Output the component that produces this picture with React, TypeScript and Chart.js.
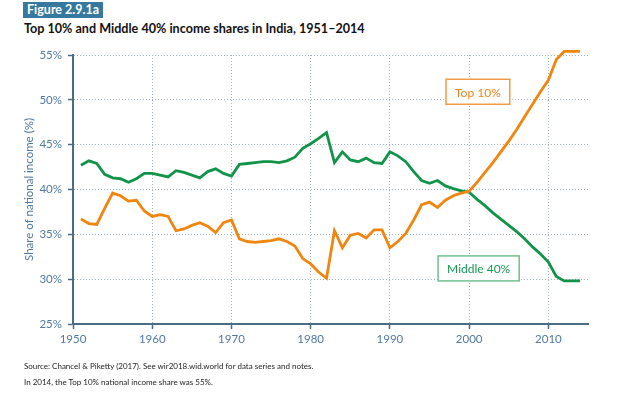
import React, { useEffect, useRef } from 'react';
import { Chart, registerables } from 'chart.js';

Chart.register(...registerables);

const YEARS = [
  1951, 1952, 1953, 1954, 1955, 1956, 1957, 1958, 1959, 1960,
  1961, 1962, 1963, 1964, 1965, 1966, 1967, 1968, 1969, 1970,
  1971, 1972, 1973, 1974, 1975, 1976, 1977, 1978, 1979, 1980,
  1981, 1982, 1983, 1984, 1985, 1986, 1987, 1988, 1989, 1990,
  1991, 1992, 1993, 1994, 1995, 1996, 1997, 1998, 1999, 2000,
  2001, 2002, 2003, 2004, 2005, 2006, 2007, 2008, 2009, 2010,
  2011, 2012, 2013, 2014,
];

const TOP10 = [
  36.7, 36.2, 36.1, 37.9, 39.6, 39.3, 38.7, 38.8, 37.6, 37.0,
  37.2, 37.0, 35.4, 35.6, 36.0, 36.3, 35.9, 35.2, 36.3, 36.6,
  34.5, 34.2, 34.1, 34.2, 34.3, 34.5, 34.2, 33.7, 32.3, 31.7,
  30.8, 30.1, 35.4, 33.5, 34.9, 35.1, 34.6, 35.5, 35.5, 33.5,
  34.2, 35.1, 36.6, 38.3, 38.6, 38.0, 38.8, 39.3, 39.6, 39.8,
  40.8, 41.9, 43.0, 44.2, 45.4, 46.7, 48.1, 49.5, 50.9, 52.2,
  54.5, 55.4, 55.4, 55.4,
];

const MIDDLE40 = [
  42.7, 43.2, 42.9, 41.7, 41.3, 41.2, 40.8, 41.2, 41.8, 41.8,
  41.6, 41.4, 42.1, 41.9, 41.6, 41.3, 42.0, 42.3, 41.8, 41.5,
  42.8, 42.9, 43.0, 43.1, 43.1, 43.0, 43.2, 43.6, 44.6, 45.1,
  45.7, 46.35, 43.0, 44.2, 43.3, 43.1, 43.5, 43.0, 42.9, 44.2,
  43.75, 43.1, 42.0, 41.0, 40.7, 41.0, 40.4, 40.1, 39.85, 39.7,
  38.9, 38.2, 37.4, 36.7, 36.0, 35.3, 34.5, 33.6, 32.8, 31.9,
  30.3, 29.8, 29.8, 29.8,
];

const X_TICKS = [1950, 1960, 1970, 1980, 1990, 2000, 2010];
const Y_TICKS = [25, 30, 35, 40, 45, 50, 55];

const SERIES_NAMES = ['Top 10%', 'Middle 40%'];

const FONT = 'Lato, "Open Sans", "DejaVu Sans", sans-serif';
const ORANGE = '#f0850f';
const GREEN = '#11944a';
const AXIS = '#4b6c85';
const TICK_TEXT = '#4f79a0';
const GRID = '#9fb1c0';

const LABEL_BOXES = [
  { text: SERIES_NAMES[0], year: 2001.1, value: 50.9, color: '#f0861a', border: '#f29a45' },
  { text: SERIES_NAMES[1], year: 2001.2, value: 31.2, color: '#159a52', border: '#72c090' },
];

const labelPlugin = {
  id: 'seriesLabels',
  afterDatasetsDraw(chart: any) {
    const { ctx, scales } = chart;
    const xs = scales.x;
    const ys = scales.y;
    for (const l of LABEL_BOXES) {
      const cx = xs.getPixelForValue(l.year);
      const cy = ys.getPixelForValue(l.value);
      ctx.save();
      ctx.font = `12px ${FONT}`;
      const w = ctx.measureText(l.text).width + 18;
      const h = 25;
      ctx.fillStyle = '#ffffff';
      ctx.fillRect(cx - w / 2, cy - h / 2, w, h);
      ctx.strokeStyle = l.border;
      ctx.lineWidth = 1.5;
      ctx.strokeRect(cx - w / 2, cy - h / 2, w, h);
      ctx.fillStyle = l.color;
      ctx.textAlign = 'center';
      ctx.textBaseline = 'middle';
      ctx.fillText(l.text, cx, cy + 1);
      ctx.restore();
    }
  },
};

export default function App() {
  const canvasRef = useRef<HTMLCanvasElement | null>(null);

  useEffect(() => {
    if (!canvasRef.current) return;
    const chart = new Chart(canvasRef.current, {
      type: 'line',
      data: {
        datasets: [
          {
            label: SERIES_NAMES[0],
            data: YEARS.map((yr, i) => ({ x: yr, y: TOP10[i] })),
            borderColor: ORANGE,
            backgroundColor: ORANGE,
            borderWidth: 2.8,
            pointRadius: 0,
            tension: 0,
            clip: 10,
          },
          {
            label: SERIES_NAMES[1],
            data: YEARS.map((yr, i) => ({ x: yr, y: MIDDLE40[i] })),
            borderColor: GREEN,
            backgroundColor: GREEN,
            borderWidth: 2.8,
            pointRadius: 0,
            tension: 0,
            clip: 10,
          },
        ],
      },
      options: {
        animation: false,
        responsive: false,
        maintainAspectRatio: false,
        devicePixelRatio: 1,
        layout: { padding: { left: 0, right: 36, top: 55, bottom: 42 } },
        plugins: {
          legend: { display: false },
          tooltip: { enabled: false },
          title: { display: false },
        },
        scales: {
          x: {
            type: 'linear',
            min: 1950,
            max: 2015,
            afterBuildTicks: (scale: any) => {
              scale.ticks = X_TICKS.map((v) => ({ value: v }));
            },
            afterFit: (scale: any) => {
              scale.height = 30;
            },
            ticks: {
              color: TICK_TEXT,
              font: { family: FONT, size: 11.5 },
              padding: 3,
              callback: (v: any) => String(v),
            },
            grid: {
              color: GRID,
              lineWidth: 1,
              drawTicks: true,
              tickLength: 5,
              tickColor: AXIS,
              tickWidth: 1.5,
              tickBorderDash: [],
            },
            border: { display: true, color: AXIS, width: 2, dash: [1, 2] },
          },
          y: {
            type: 'linear',
            min: 25,
            max: 55,
            afterBuildTicks: (scale: any) => {
              scale.ticks = Y_TICKS.map((v) => ({ value: v }));
            },
            afterFit: (scale: any) => {
              scale.width = 73;
            },
            ticks: {
              color: TICK_TEXT,
              font: { family: FONT, size: 11.5 },
              padding: 6,
              callback: (v: any) => `${v}%`,
            },
            grid: {
              color: GRID,
              lineWidth: 1,
              drawTicks: true,
              tickLength: 5,
              tickColor: AXIS,
              tickWidth: 1.5,
              tickBorderDash: [],
            },
            border: { display: true, color: AXIS, width: 2, dash: [1, 2] },
            title: {
              display: true,
              text: 'Share of national income (%)',
              color: TICK_TEXT,
              font: { family: FONT, size: 11.5 },
              padding: { top: 22, bottom: 0 },
            },
          },
        },
      },
      plugins: [labelPlugin],
    });
    return () => chart.destroy();
  }, []);

  return (
    <div
      style={{
        position: 'absolute',
        left: 0,
        top: 0,
        width: 624,
        height: 396,
        background: '#ffffff',
        fontFamily: FONT,
        overflow: 'hidden',
      }}
    >
      <div
        style={{
          position: 'absolute',
          left: 23,
          top: 2,
          height: 16,
          padding: '0 4px',
          background: '#37789e',
          color: '#ffffff',
          fontWeight: 700,
          fontSize: 12.5,
          lineHeight: '16px',
        }}
      >
        Figure 2.9.1a
      </div>
      <div
        style={{
          position: 'absolute',
          left: 24,
          top: 20,
          fontWeight: 700,
          fontSize: 12.6,
          lineHeight: '18px',
          color: '#111111',
          whiteSpace: 'nowrap',
        }}
      >
        Top 10% and Middle 40% income shares in India, 1951–2014
      </div>
      <canvas
        ref={canvasRef}
        width={624}
        height={396}
        style={{ position: 'absolute', left: 0, top: 0, width: 624, height: 396 }}
      />
      <div
        style={{
          position: 'absolute',
          left: 24,
          top: 360,
          fontSize: 8,
          lineHeight: '12px',
          color: '#222222',
          whiteSpace: 'nowrap',
        }}
      >
        Source: Chancel &amp; Piketty (2017). See wir2018.wid.world for data series and notes.
      </div>
      <div
        style={{
          position: 'absolute',
          left: 24,
          top: 376,
          fontSize: 8,
          lineHeight: '12px',
          color: '#222222',
          whiteSpace: 'nowrap',
        }}
      >
        In 2014, the Top 10% national income share was 55%.
      </div>
    </div>
  );
}
